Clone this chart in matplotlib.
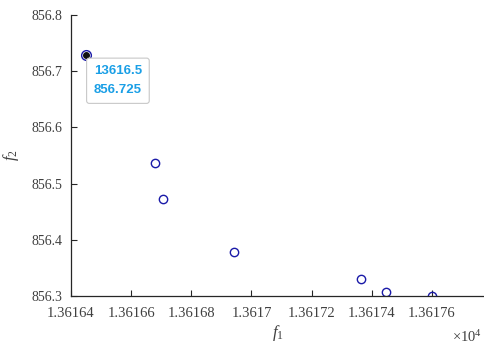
import matplotlib
matplotlib.use("Agg")
from matplotlib import pyplot as plt

# Pareto front points (f1, f2)
f1 = [13616.68, 13616.707, 13616.943, 13617.365, 13617.447, 13617.60]
f2 = [856.537, 856.473, 856.379, 856.330, 856.308, 856.300]

# point picked by the data tip
tip_f1 = 13616.45
tip_f2 = 856.728
tip_text = ["13616.5", "856.725"]

xticks = [13616.4, 13616.6, 13616.8, 13617.0, 13617.2, 13617.4, 13617.6]
xtick_labels = ["1.36164", "1.36166", "1.36168", "1.3617", "1.36172", "1.36174", "1.36176"]
yticks = [856.3, 856.4, 856.5, 856.6, 856.7, 856.8]
ytick_labels = ["856.3", "856.4", "856.5", "856.6", "856.7", "856.8"]

plt.rcParams['font.family'] = ['Liberation Serif', 'DejaVu Serif']
plt.rcParams['mathtext.fontset'] = 'custom'
plt.rcParams['mathtext.it'] = 'Liberation Serif:italic'
plt.rcParams['mathtext.rm'] = 'Liberation Serif'

axis_col = '#262626'
fig = plt.figure(figsize=(4.84, 3.45), dpi=100)
ax = fig.add_axes([71 / 484, 49 / 345, 413 / 484, 281 / 345])

ax.plot(f1, f2, linestyle='none', marker='o', markersize=6, markerfacecolor='none',
        markeredgecolor='#1a1aa8', markeredgewidth=1.0)
# highlighted point: blue ring with a black dot
ax.plot([tip_f1], [tip_f2], linestyle='none', marker='o', markersize=7, markerfacecolor='none',
        markeredgecolor='#1a1aa8', markeredgewidth=1.0)
ax.plot([tip_f1], [tip_f2], linestyle='none', marker='o', markersize=4, color='#111111')

ax.text(13616.556, 856.683, "\n".join(tip_text), family='Liberation Sans',
        fontweight='bold', fontsize=9.5, color='#1a9fe6', ha='center', va='center',
        linespacing=1.75,
        bbox=dict(boxstyle='round,pad=0.55,rounding_size=0.2', facecolor='white',
                  edgecolor='#c8c8c8', linewidth=0.8))

ax.set_xlim(13616.4, 13616.4 + 413 / 300.8)
ax.set_ylim(856.3, 856.8)
ax.set_xticks(xticks)
ax.set_xticklabels(xtick_labels)
ax.set_yticks(yticks)
ax.set_yticklabels(ytick_labels)
ax.tick_params(direction='in', length=4, width=0.8, color=axis_col, labelsize=10,
               labelcolor='#404040')
ax.tick_params(axis='x', pad=8, labelsize=10.5)
ax.tick_params(axis='y', pad=6)

for s in ['top', 'right']:
    ax.spines[s].set_visible(False)
for s in ['left', 'bottom']:
    ax.spines[s].set_color(axis_col)
    ax.spines[s].set_linewidth(0.9)

ax.set_xlabel(r"$f_1$", fontsize=12, color='#404040', labelpad=2)
ax.set_ylabel(r"$f_2$", fontsize=12, color='#404040', labelpad=8)
fig.text(452 / 484, 1 - 337 / 345, r"$\times\mathregular{10}^{\mathregular{4}}$", fontsize=10.5,
         color='#404040', ha='left', va='center')

fig.savefig("out.png", dpi=100)
